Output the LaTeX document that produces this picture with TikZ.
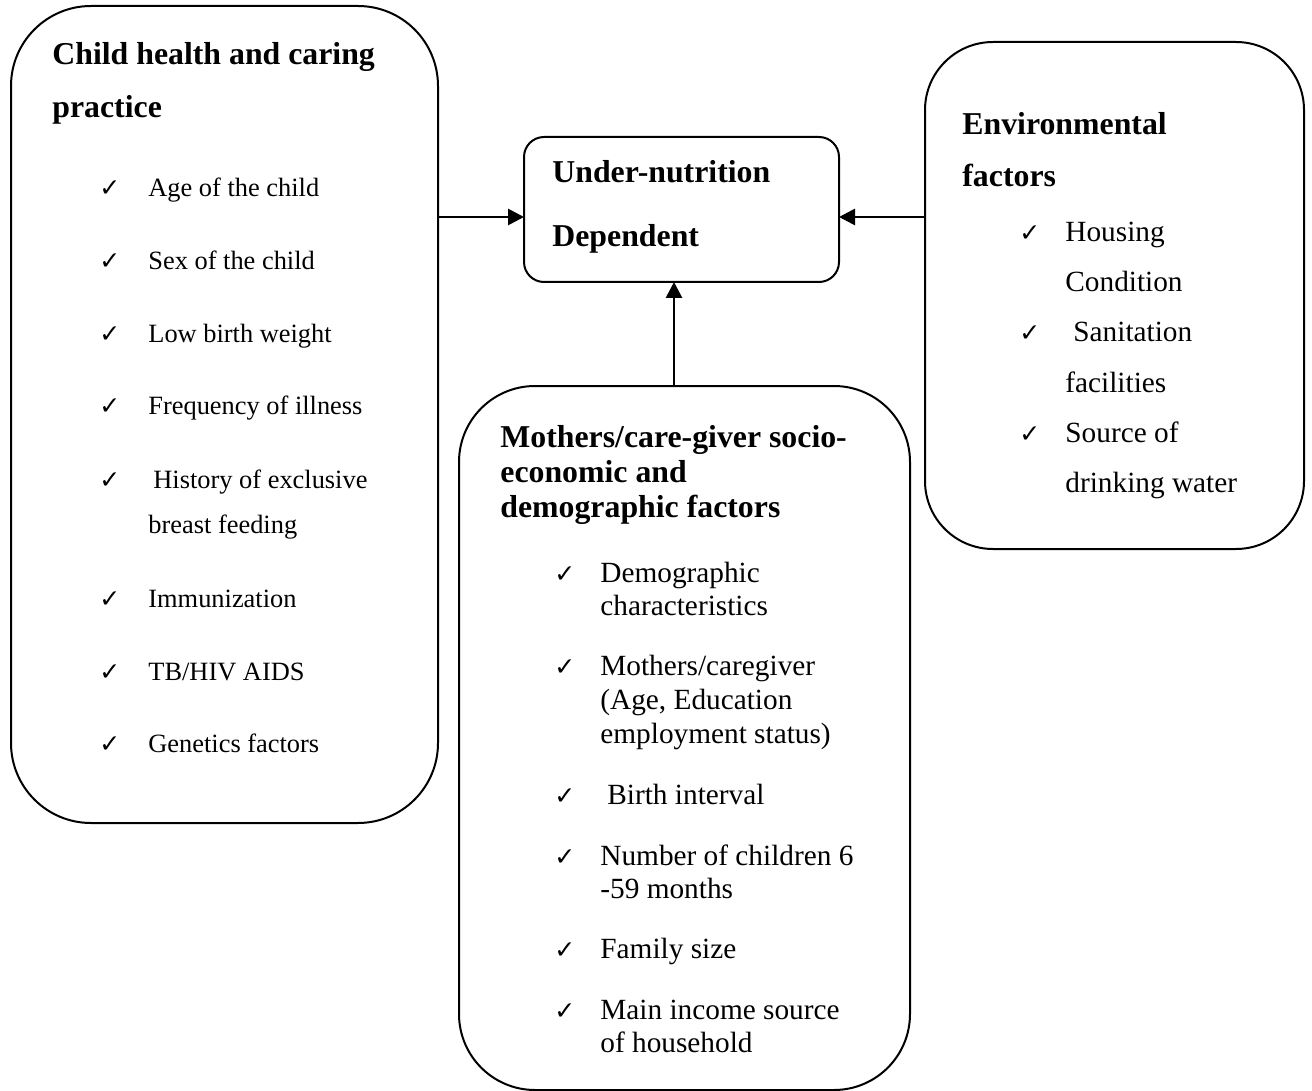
\documentclass[tikz,border=0pt]{standalone}
\usepackage{fontspec}
\setmainfont{Liberation Serif}
\newfontfamily\tickfont{DejaVu Sans}
\usetikzlibrary{arrows.meta}

\begin{document}
\begin{tikzpicture}[x=0.5pt, y=-0.5pt,
  box/.style={draw, line width=1pt, inner sep=0pt, outer sep=0pt},
  head/.style={anchor=base west, inner sep=0pt, font=\fontsize{15.9}{19}\selectfont\bfseries},
  lefttxt/.style={anchor=base west, inner sep=0pt, font=\fontsize{13.2}{16}\selectfont},
  itemtxt/.style={anchor=base west, inner sep=0pt, font=\fontsize{14.65}{17}\selectfont},
  tick/.style={anchor=base west, inner sep=0pt, font=\tickfont\fontsize{12.5}{14}\selectfont\bfseries},
  arr/.style={line width=1.4pt, -{Triangle[length=8pt, width=8pt]}}]
  \useasboundingbox (0,0) rectangle (1312,1091);

  % boxes
  \node[box, rounded corners=40pt, minimum width=213.5pt, minimum height=408.5pt] (childbox) at (224.5,414.5) {};
  \node[box, rounded corners=10pt, minimum width=157.5pt, minimum height=72.5pt] (undernut) at (681.5,209.5) {};
  \node[box, rounded corners=34pt, minimum width=189.5pt, minimum height=253.5pt] (envbox) at (1114.5,295.5) {};
  \node[box, rounded corners=38pt, minimum width=225.5pt, minimum height=352pt] (mothbox) at (684.5,738) {};

  % arrows
  \coordinate (armrow) at (0,217);
  \coordinate (armcol) at (674,0);
  \draw[arr] (childbox.east |- armrow) -- (undernut.west |- armrow);
  \draw[arr] (envbox.west |- armrow) -- (undernut.east |- armrow);
  \draw[arr] (mothbox.north -| armcol) -- (undernut.south -| armcol);

  % centre
  \node[head] (un1) at (552,183) {Under-nutrition};
  \node[head] (un2) at (552,247) {Dependent};

  % child health
  \node[head] (ch1) at (52,65) {Child health and caring};
  \node[head] (ch2) at (52,118) {practice};
  \foreach \xx/\yy/\txt [count=\i] in {148/197/Age of the child, 148/270/Sex of the child,
      148/343/Low birth weight, 148/415/Frequency of illness, 153/488/History of exclusive,
      148/607/Immunization, 148/680/{TB/HIV AIDS}, 148/752/Genetics factors} {
    \node[tick] (ct\i) at (99,\yy) {✓};
    \node[lefttxt] (ci\i) at (\xx,\yy) {\txt};
  }
  \node[lefttxt] (cc1) at (148,533) {breast feeding};

  % environment
  \node[head] (en1) at (962,135) {Environmental};
  \node[head] (en2) at (962,187) {factors};
  \foreach \xx/\yy/\txt [count=\i] in {1065/242/Housing, 1073/342/Sanitation, 1065/442/Source of} {
    \node[tick] (et\i) at (1019,\yy) {✓};
    \node[itemtxt] (ei\i) at (\xx,\yy) {\txt};
  }
  \foreach \yy/\txt [count=\i] in {292/Condition, 392/facilities, 492/drinking water}
    \node[itemtxt] (ec\i) at (1065,\yy) {\txt};

  % mothers / care-giver
  \node[head] (mo1) at (500,447) {Mothers/care-giver socio-};
  \node[head] (mo2) at (500,482) {economic and};
  \node[head] (mo3) at (500,517) {demographic factors};
  \foreach \xx/\yy/\txt [count=\i] in {600/582/Demographic, 600/675/{Mothers/caregiver},
      607/804/Birth interval, 600/865/Number of children 6, 600/958/Family size,
      600/1019/Main income source} {
    \node[tick] (mt\i) at (554,\yy) {✓};
    \node[itemtxt] (mi\i) at (\xx,\yy) {\txt};
  }
  \foreach \yy/\txt [count=\i] in {615.5/characteristics, 709/{(Age, Education}, 743/employment status),
      898/-59 months, 1052/of household}
    \node[itemtxt] (mc\i) at (600,\yy) {\txt};
\end{tikzpicture}
\end{document}
